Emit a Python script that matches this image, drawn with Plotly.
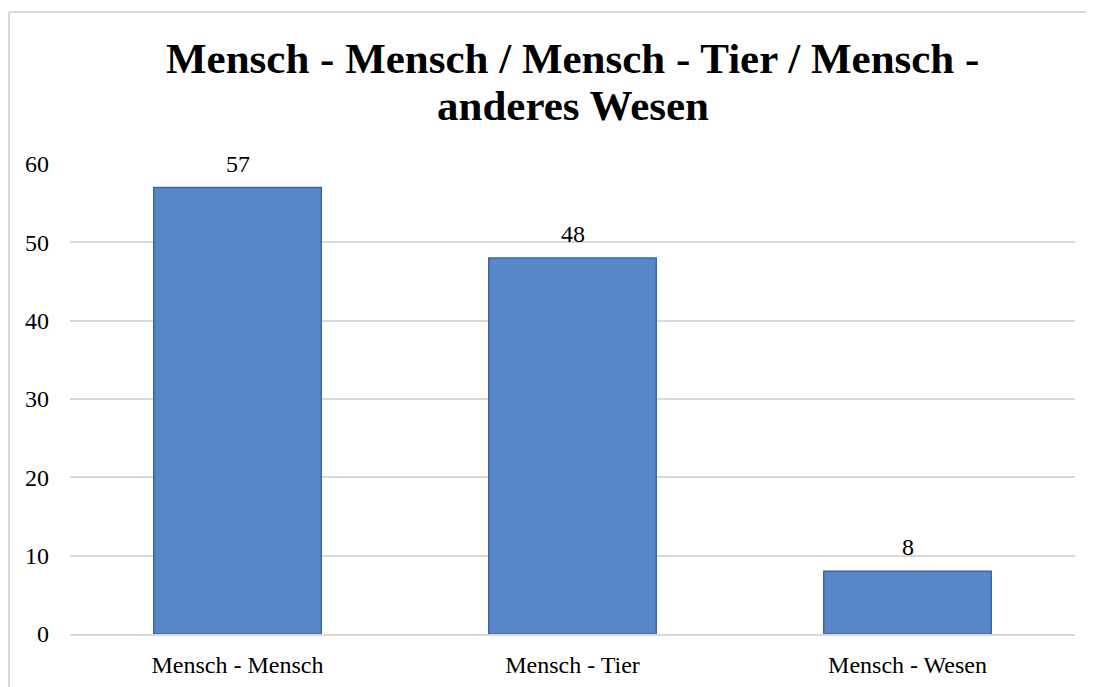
import plotly.graph_objects as go

categories = ["Mensch - Mensch", "Mensch - Tier", "Mensch - Wesen"]
values = [57, 48, 8]
title_lines = ["Mensch - Mensch / Mensch - Tier / Mensch -", "anderes Wesen"]

serif = "Liberation Serif, Times New Roman, serif"

# page body adds an 8px offset, so work in figure coords
W, H = 1094, 687
L, R, T, B = 62, 27, 156, 61
pw, ph = W - L - R, H - T - B

fig = go.Figure()
fig.add_trace(go.Bar(
    x=categories,
    y=values,
    marker=dict(color="#5787c9", line=dict(color="#3b68a3", width=1.5)),
    width=0.5,
    hoverinfo="x+y",
))

# value labels above the bars
for c, v in zip(categories, values):
    fig.add_annotation(x=c, y=v, text=str(v), showarrow=False,
                       yanchor="bottom", yshift=9,
                       font=dict(family=serif, size=24, color="#000000"))

# two-line bold title
for i, line in enumerate(title_lines):
    fig.add_annotation(text="<b>" + line + "</b>", showarrow=False,
                       xref="paper", x=0.5, xanchor="center",
                       yref="paper", y=(H - B - (50 + 47 * i)) / ph, yanchor="middle",
                       font=dict(family=serif, size=43, color="#000000"))

top = (H - B - 4) / ph
left = -(L - 1) / pw
fig.update_layout(
    width=W, height=H,
    paper_bgcolor="white", plot_bgcolor="white",
    margin=dict(l=L, r=R, t=T, b=B),
    showlegend=False,
    font=dict(family=serif, size=24, color="#000000"),
    xaxis=dict(
        showgrid=False, showline=True, linecolor="#d9d9d9", linewidth=2,
        ticks="", ticklabelstandoff=8, tickfont=dict(family=serif, size=24),
    ),
    yaxis=dict(
        range=[0, 60], dtick=10, showgrid=True, gridcolor="#d9d9d9", gridwidth=1.5,
        zeroline=False, showline=False, ticks="", ticklabelstandoff=20,
        tickfont=dict(family=serif, size=24),
    ),
    shapes=[
        dict(type="line", xref="paper", yref="paper",
             x0=left, x1=left, y0=-1, y1=top,
             line=dict(color="#d9d9d9", width=2)),
        dict(type="line", xref="paper", yref="paper",
             x0=left, x1=2, y0=top, y1=top,
             line=dict(color="#d9d9d9", width=2)),
    ],
)

fig.write_html("out.html")
